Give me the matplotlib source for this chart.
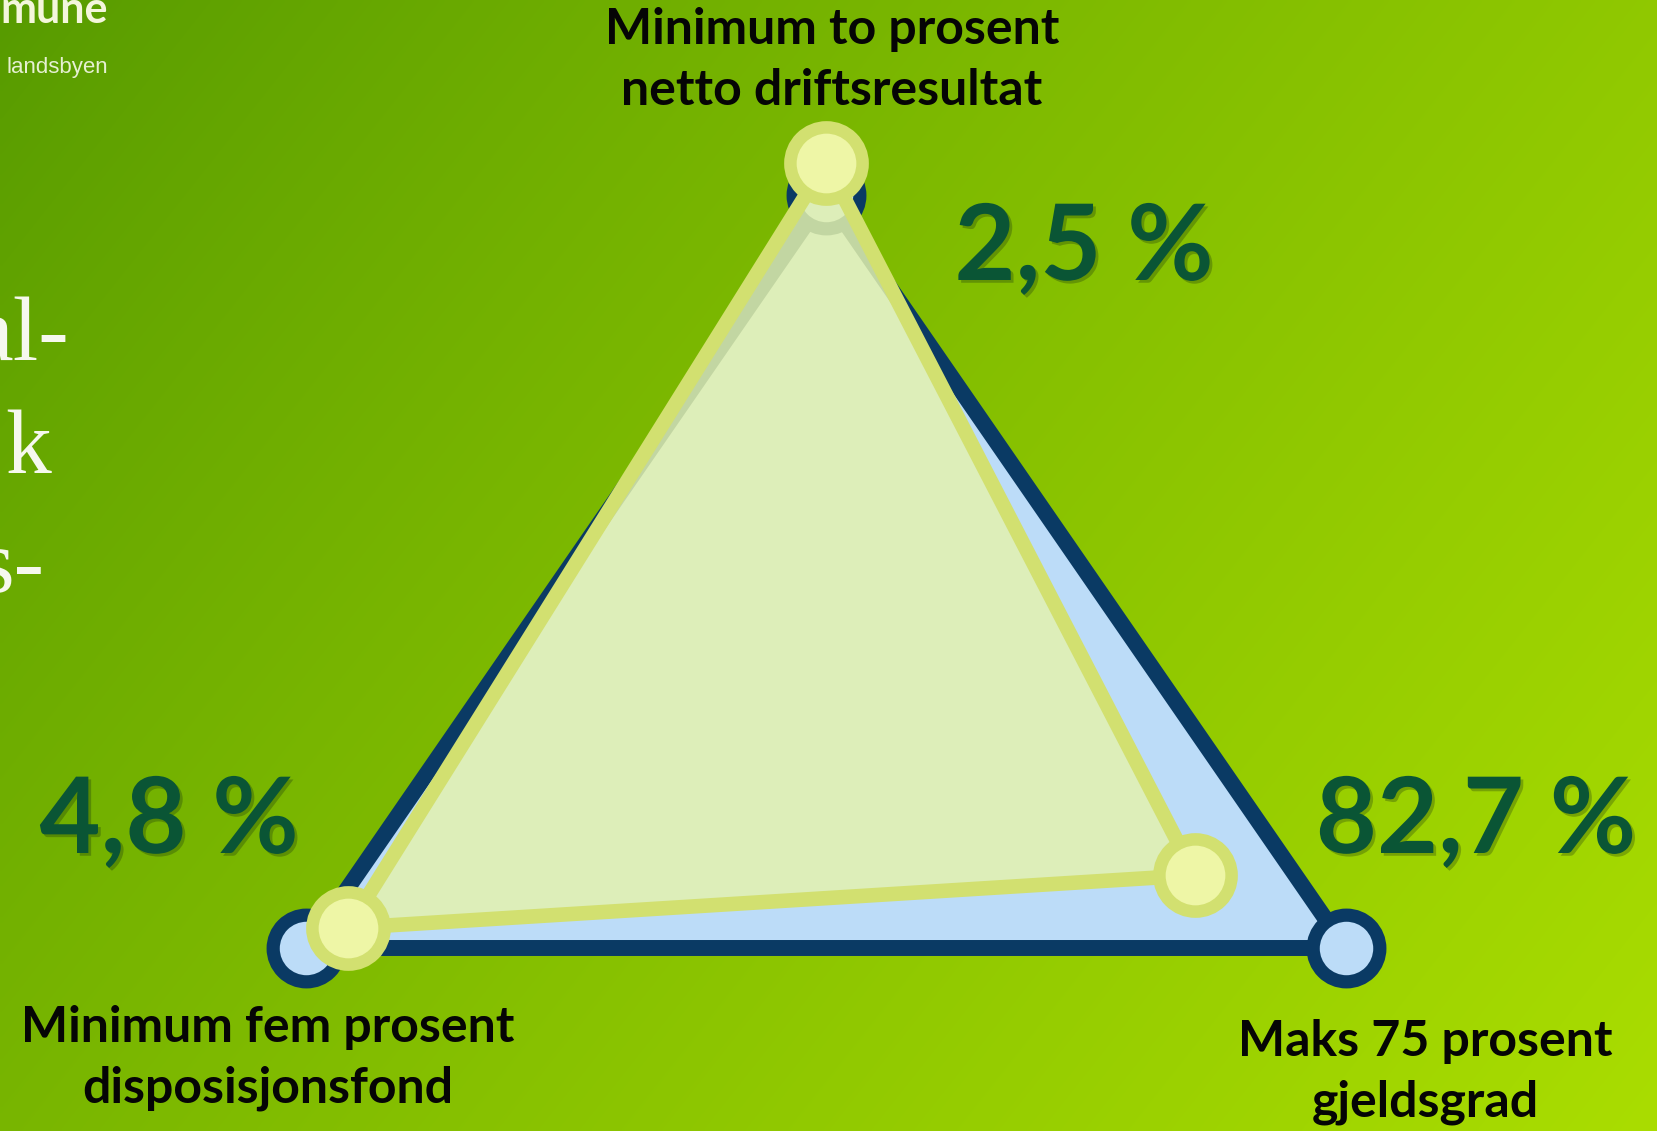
import numpy as np
import matplotlib
matplotlib.use('Agg')
import matplotlib.pyplot as plt
import matplotlib.patheffects as pe
from matplotlib.colors import to_rgb

# radar data: score relative to the financial rule (1.0 = the rule itself)
categories = ['Minimum to prosent\nnetto driftsresultat',
              'Maks 75 prosent\ngjeldsgrad',
              'Minimum fem prosent\ndisposisjonsfond']
target = [1.0, 1.0, 1.0]
actual = [1.064, 0.71, 0.92]
value_labels = ['2,5 %', '82,7 %', '4,8 %']

W, H = 1658, 1131
fig = plt.figure(figsize=(W / 100, H / 100), dpi=100)

# background gradient (dark green top-left -> lime bottom-right)
bg = fig.add_axes([0, 0, 1, 1])
xx, yy = np.meshgrid(np.linspace(0, 1, 400), np.linspace(0, 1, 300))
t = (0.65 * xx + 0.35 * yy) ** 0.85
c0 = np.array(to_rgb('#569a00'))
c1 = np.array(to_rgb('#aadd00'))
img = c0 + (c1 - c0) * t[..., None]
bg.imshow(img, extent=[0, W, H, 0], aspect='auto', interpolation='bilinear')
bg.set_xlim(0, W)
bg.set_ylim(H, 0)
bg.axis('off')

# slide text fragments on the left
bg.text(108, 23, 'mune', ha='right', va='baseline', fontsize=31,
        family='Lato', weight='bold', color='#f4f6dc')
bg.text(108, 73, 'landsbyen', ha='right', va='baseline', fontsize=16,
        family='Liberation Sans', color='#e6f0d2')
for txt, x, y in [('al-', 69, 360), ('k', 51, 473), ('s-', 44, 592)]:
    bg.text(x, y, txt, ha='right', va='baseline', fontsize=66,
            family='Liberation Serif', color='#f6f8ee')

# radar axes, stretched (aspect auto) to match the slide
cx, cy = 826, 697
sx, sy = 600, 502
R = 1.2
ax = fig.add_axes([(cx - R * sx) / W, (H - cy - R * sy) / H,
                   2 * R * sx / W, 2 * R * sy / H], projection='polar')
ax.set_aspect('auto')
ax.set_theta_offset(np.pi / 2)
ax.set_theta_direction(-1)
ax.set_ylim(0, R)
ax.patch.set_alpha(0)
ax.grid(False)
ax.set_xticks([])
ax.set_yticks([])
ax.spines['polar'].set_visible(False)

theta = np.deg2rad([0, 120, 240])
th = np.append(theta, theta[0])
tg = np.append(target, target[0])
ac = np.append(actual, actual[0])

ax.fill(th, tg, color='#bcdcf8', zorder=1)
ax.plot(th, tg, color='#0a3a64', lw=11.5, solid_joinstyle='miter', zorder=2)
ax.plot(theta, target, 'o', ms=48, mfc='#bcdcf8', mec='#0a3a64', mew=9.5, zorder=3)

ax.fill(th, ac, color='#e4f2ae', alpha=0.85, zorder=4)
ax.plot(th, ac, color='#d2e070', lw=10.5, zorder=5)
ax.plot(theta, actual, 'o', ms=52, mfc='#eef6a6', mec='#d2e070', mew=9, zorder=6)

# axis labels and values (figure pixel coords)
label_pos = [(832, 60), (1425, 1072), (268, 1058)]
for lab, (x, y) in zip(categories, label_pos):
    bg.text(x, y, lab, ha='center', va='center', fontsize=36, family='Lato',
            weight='bold', color='#050505', linespacing=1.44)

value_pos = [(1084, 250), (1476, 823), (169, 823)]
shadow = [pe.SimplePatchShadow(offset=(2, -2), alpha=0.25), pe.Normal()]
for v, (x, y) in zip(value_labels, value_pos):
    bg.text(x, y, v, ha='center', va='center', fontsize=76, family='Lato',
            weight='bold', color='#0a5535', path_effects=shadow)

fig.savefig('out.png', dpi=100)
